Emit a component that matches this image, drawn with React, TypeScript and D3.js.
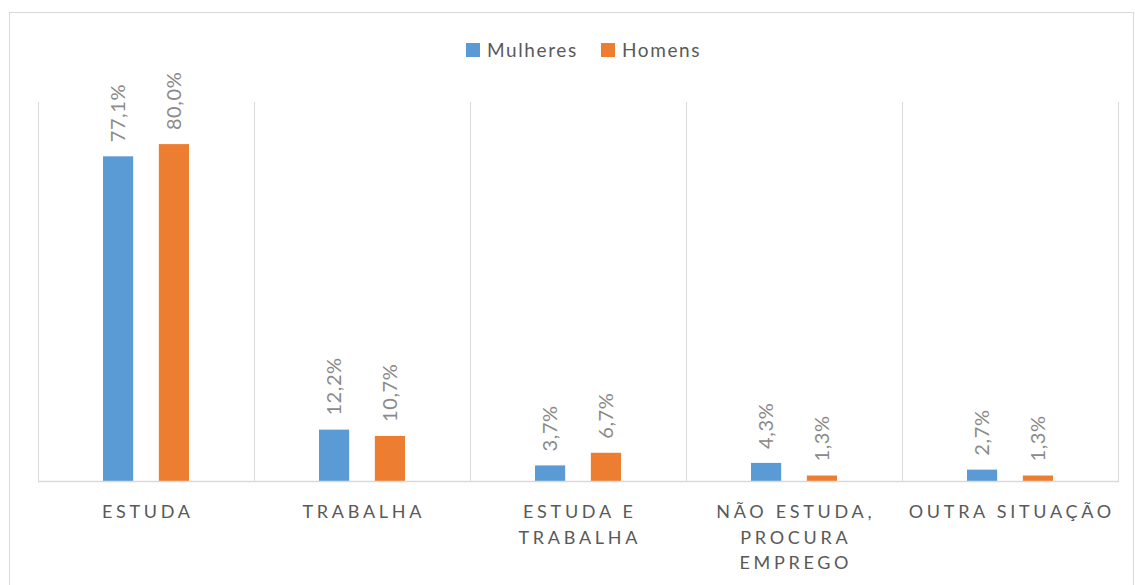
import React from 'react';
import * as d3 from 'd3';

const categories = [['ESTUDA'], ['TRABALHA'], ['ESTUDA E', 'TRABALHA'], ['NÃO ESTUDA,', 'PROCURA', 'EMPREGO'], ['OUTRA SITUAÇÃO']];
const seriesNames = ['Mulheres', 'Homens'];
const mulheres = [77.1, 12.2, 3.7, 4.3, 2.7];
const homens = [80.0, 10.7, 6.7, 1.3, 1.3];

const colors = { Mulheres: '#5B9BD5', Homens: '#ED7D31' };

const width = 1135;
const height = 585;
const plot = { left: 38, right: 1118, top: 102, bottom: 481 };
const font = 'Lato, "Open Sans", sans-serif';

const fmt = (v: number) => v.toFixed(1).replace('.', ',') + '%';

const App = () => {
    const keys = categories.map(c => c.join(' '));

    const x0 = d3.scaleBand().domain(keys).range([plot.left, plot.right]).padding(0);
    const x1 = d3.scaleBand().domain(seriesNames).range([65, 151]).paddingInner(0.46).paddingOuter(0);
    const y = d3.scaleLinear().domain([0, 90]).range([plot.bottom, plot.top]);

    const values: Record<string, number[]> = { Mulheres: mulheres, Homens: homens };

    // category boundaries for the vertical gridlines
    const bounds = keys.map(k => x0(k) as number).concat([plot.right]);

    return (
        <svg width={width} height={height} style={{ position: 'absolute', left: 0, top: 0, background: '#fff' }}>
            <rect x={9.5} y={12.5} width={1124} height={600} fill="#fff" stroke="#d9d9d9" />

            {bounds.map((b, i) => (
                <line key={i} x1={b + 0.5} x2={b + 0.5} y1={plot.top} y2={plot.bottom} stroke="#d9d9d9" />
            ))}

            {keys.map((k, ci) => (
                <g key={k} transform={`translate(${x0(k)},0)`}>
                    {seriesNames.map(s => {
                        const v = values[s][ci];
                        const bx = x1(s) as number;
                        const cx = bx + x1.bandwidth() / 2;
                        return (
                            <g key={s}>
                                <rect x={bx} y={y(v)} width={x1.bandwidth()} height={plot.bottom - y(v)} fill={colors[s as keyof typeof colors]} />
                                <text
                                    transform={`translate(${cx},${y(v) - 14}) rotate(-90)`}
                                    dy="0.35em"
                                    fontFamily={font}
                                    fontSize={20}
                                    fill="#8a8a8a"
                                    letterSpacing={0.6}
                                >
                                    {fmt(v)}
                                </text>
                            </g>
                        );
                    })}
                </g>
            ))}

            <line x1={plot.left} x2={plot.right + 1} y1={plot.bottom + 0.5} y2={plot.bottom + 0.5} stroke="#d9d9d9" strokeWidth={1.5} />

            {categories.map((lines, ci) => {
                const cx = (x0(keys[ci]) as number) + x0.bandwidth() / 2;
                return (
                    <text key={ci} fontFamily={font} fontSize={18} fill="#595959" textAnchor="middle" letterSpacing={3.7}>
                        {lines.map((ln, li) => (
                            <tspan key={li} x={cx + 1.8} y={518 + li * 25.5}>{ln}</tspan>
                        ))}
                    </text>
                );
            })}

            {/* legend */}
            {seriesNames.map((s, i) => {
                const lx = [466, 601][i];
                return (
                    <g key={s}>
                        <rect x={lx} y={43} width={14} height={14} fill={colors[s as keyof typeof colors]} />
                        <text x={lx + 21} y={50} dy="0.35em" fontFamily={font} fontSize={19} fill="#595959" letterSpacing={1.6}>{s}</text>
                    </g>
                );
            })}
        </svg>
    );
};

export default App;
